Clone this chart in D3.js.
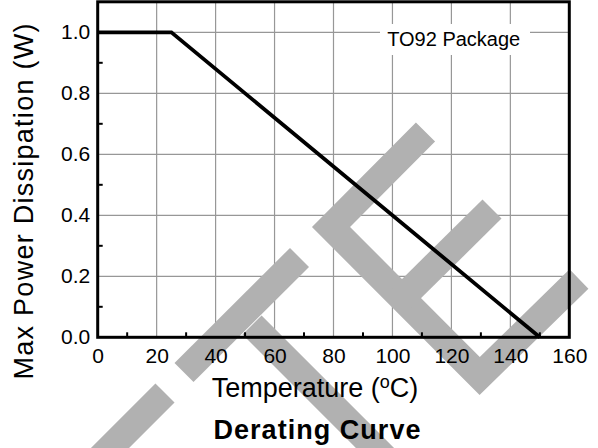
<!DOCTYPE html>
<html>
<head>
<meta charset="utf-8">
<script src="https://cdn.jsdelivr.net/npm/d3@7"></script>
<style>
  html, body { margin: 0; padding: 0; background: #fff; }
  svg { display: block; }
  text { font-family: "Liberation Sans", Arial, Helvetica, sans-serif; fill: #000; }
</style>
</head>
<body>
<svg id="chart" width="598" height="448"></svg>
<script>
// ---- data ----
const tempC = [0, 25, 150];
const powerW = [1.0, 1.0, 0.0];
const xTicks = [0, 20, 40, 60, 80, 100, 120, 140, 160];
const xMinorTicks = [10, 30, 50, 70, 90, 110, 130, 150];
const yTicks = [0.0, 0.2, 0.4, 0.6, 0.8, 1.0];
const yMinorTicks = [0.1, 0.3, 0.5, 0.7, 0.9];
const xDomain = [0, 160];
const yDomain = [0, 1.1];
const xTitle = "Temperature (";
const xTitleSup = "o";
const xTitleEnd = "C)";
const yTitle = "Max Power Dissipation (W)";
const chartTitle = "Derating Curve";
const noteText = "TO92 Package";

// decorative watermark strokes (pixel space, not data)
const watermarkStrokes = [
  [[184, 372.5], [299.5, 257.5]],
  [[252, 325], [452, 525]],
  [[165, 393], [65, 493]],
  [[425.5, 132], [331, 227], [479.7, 376], [579, 279]],
  [[402, 298], [492, 209]]
];

(function () {
const svg = d3.select("#chart");
const pL = 97.7, pR = 569.3, pT = 1.8, pB = 337.3;

const x = d3.scaleLinear().domain(xDomain).range([pL, pR]);
const y = d3.scaleLinear().domain(yDomain).range([pB, pT]);

svg.append("rect").attr("width", 598).attr("height", 448).attr("fill", "#fff");

// gridlines
const grid = svg.append("g").attr("stroke", "#979797").attr("stroke-width", 1.2);
grid.selectAll("line.v").data(xTicks.slice(1, -1)).join("line")
  .attr("class", "v")
  .attr("x1", d => x(d)).attr("x2", d => x(d))
  .attr("y1", pT).attr("y2", pB);
grid.selectAll("line.h").data(yTicks.slice(1)).join("line")
  .attr("class", "h")
  .attr("x1", pL).attr("x2", pR)
  .attr("y1", d => y(d)).attr("y2", d => y(d));

// watermark
svg.append("g").selectAll("path").data(watermarkStrokes).join("path")
  .attr("d", d => d3.line()(d))
  .attr("fill", "none")
  .attr("stroke", "#b1b1b1")
  .attr("stroke-width", 27)
  .attr("stroke-linecap", "butt")
  .attr("stroke-linejoin", "miter");

// note box
svg.append("rect")
  .attr("x", 380).attr("y", 24).attr("width", 150).attr("height", 31)
  .attr("fill", "#fff");
svg.append("text")
  .attr("x", 453.7).attr("y", 46)
  .attr("text-anchor", "middle")
  .attr("font-size", 20)
  .text(noteText);

// curve
const pts = tempC.map((t, i) => [t, powerW[i]]);
svg.append("path")
  .datum(pts)
  .attr("d", d3.line().x(d => x(d[0])).y(d => y(d[1])))
  .attr("fill", "none")
  .attr("stroke", "#000")
  .attr("stroke-width", 3.8)
  .attr("stroke-linejoin", "miter");

// minor ticks (inward)
const minor = svg.append("g").attr("stroke", "#000").attr("stroke-width", 2);
minor.selectAll("line.xm").data(xMinorTicks).join("line")
  .attr("class", "xm")
  .attr("x1", d => x(d)).attr("x2", d => x(d))
  .attr("y1", pB).attr("y2", pB - 5);
minor.selectAll("line.ym").data(yMinorTicks).join("line")
  .attr("class", "ym")
  .attr("x1", pL).attr("x2", pL + 5)
  .attr("y1", d => y(d)).attr("y2", d => y(d));

// frame
svg.append("rect")
  .attr("x", pL).attr("y", pT)
  .attr("width", pR - pL).attr("height", pB - pT)
  .attr("fill", "none").attr("stroke", "#000").attr("stroke-width", 3);

// tick labels
const xAxis = d3.axisBottom(x).tickValues(xTicks).tickSize(0).tickPadding(0)
  .tickFormat(d3.format("d"));
const gx = svg.append("g").attr("transform", `translate(0,${pB})`).call(xAxis);
gx.select(".domain").remove();
gx.selectAll("text").attr("font-size", 21).attr("fill", "#000")
  .attr("font-family", "Liberation Sans, Arial, sans-serif")
  .attr("dy", null).attr("y", 26);

const yAxis = d3.axisLeft(y).tickValues(yTicks).tickSize(0).tickPadding(0)
  .tickFormat(d3.format(".1f"));
const gy = svg.append("g").attr("transform", `translate(${pL},0)`).call(yAxis);
gy.select(".domain").remove();
gy.selectAll("text").attr("font-size", 21).attr("fill", "#000")
  .attr("font-family", "Liberation Sans, Arial, sans-serif")
  .attr("dy", null).attr("y", 6).attr("x", -7.5);

// axis titles
const xt = svg.append("text")
  .attr("x", 315).attr("y", 397)
  .attr("text-anchor", "middle")
  .attr("font-size", 27);
xt.append("tspan").text(xTitle);
xt.append("tspan").attr("font-size", 18).attr("dy", -9.5).text(xTitleSup);
xt.append("tspan").attr("dy", 9.5).text(xTitleEnd);

svg.append("text")
  .attr("transform", "translate(33,201.5) rotate(-90)")
  .attr("text-anchor", "middle")
  .attr("font-size", 27)
  .attr("textLength", 356)
  .attr("lengthAdjust", "spacing")
  .text(yTitle);

svg.append("text")
  .attr("x", 317).attr("y", 439)
  .attr("text-anchor", "middle")
  .attr("font-size", 27)
  .attr("font-weight", "bold")
  .attr("textLength", 207)
  .attr("lengthAdjust", "spacing")
  .text(chartTitle);
})();
</script>
</body>
</html>
